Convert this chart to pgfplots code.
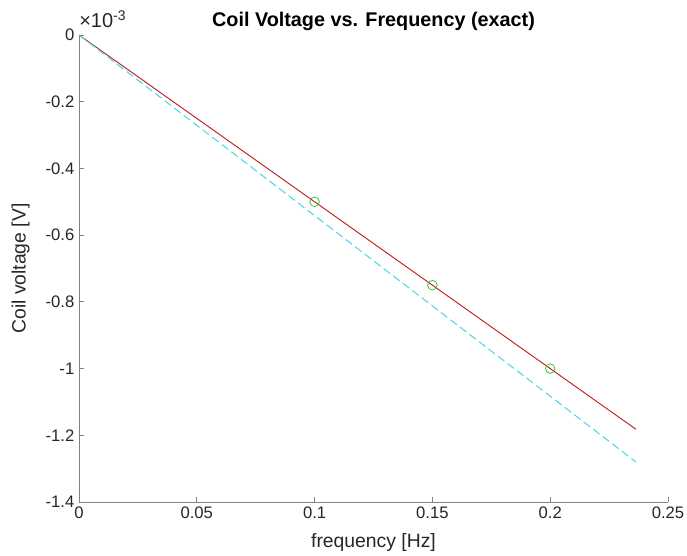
\documentclass[border=0pt]{standalone}
\usepackage{pgfplots}
\pgfplotsset{compat=1.18}
\usepackage{fontspec}
\setmainfont{Liberation Sans}
\definecolor{axgray}{RGB}{128,128,128}
\definecolor{redline}{RGB}{190,30,30}
\definecolor{cyanline}{RGB}{80,215,230}
\definecolor{greenmark}{RGB}{60,200,60}
\begin{document}
\begin{tikzpicture}
\useasboundingbox (-59.25pt,-40.5pt) rectangle (456pt,376.5pt);
\begin{axis}[
  at={(0,0)}, anchor=south west,
  scale only axis,
  width=441.75pt, height=350.25pt,
  xmin=0, xmax=0.25, ymin=-1.4, ymax=0,
  axis lines*=left,
  axis line style={axgray, line width=0.6pt},
  tick style={axgray, line width=0.6pt},
  tick align=inside,
  major tick length=4pt,
  xtick={0,0.05,0.1,0.15,0.2,0.25},
  ytick={-1.4,-1.2,-1,-0.8,-0.6,-0.4,-0.2,0},
  xticklabels={0,0.05,0.1,0.15,0.2,0.25},
  yticklabels={-1.4,-1.2,-1,-0.8,-0.6,-0.4,-0.2,0},
  ticklabel style={font=\fontsize{12.5}{14}\selectfont, text=black!85},
  /pgf/number format/assume math mode=true,
  xlabel={frequency [Hz]},
  ylabel={Coil voltage [V]},
  label style={font=\fontsize{14.5}{17}\selectfont, text=black!85},
  xlabel style={yshift=-4pt},
  ylabel style={yshift=5pt},
  title={Coil Voltage vs. Frequency (exact)},
  title style={font=\bfseries\fontsize{14.85}{18}\selectfont, yshift=-6pt},
  clip=false,
]
\addplot[redline, line width=0.7pt] coordinates {(0,0) (0.2364,-1.182)};
\addplot[cyanline, line width=0.8pt, dash pattern=on 6pt off 3pt] coordinates {(0,0) (0.2364,-1.28)};
\addplot[only marks, mark=o, mark size=3.6pt, greenmark, mark options={line width=0.6pt}] coordinates {(0.1,-0.5) (0.15,-0.75) (0.2,-1.0)};
\node[anchor=south west, inner sep=0pt, font=\fontsize{15}{17}\selectfont, text=black!85] at (rel axis cs:0,1) [yshift=5.5pt] {×10\textsuperscript{-3}};
\end{axis}
\end{tikzpicture}
\end{document}
